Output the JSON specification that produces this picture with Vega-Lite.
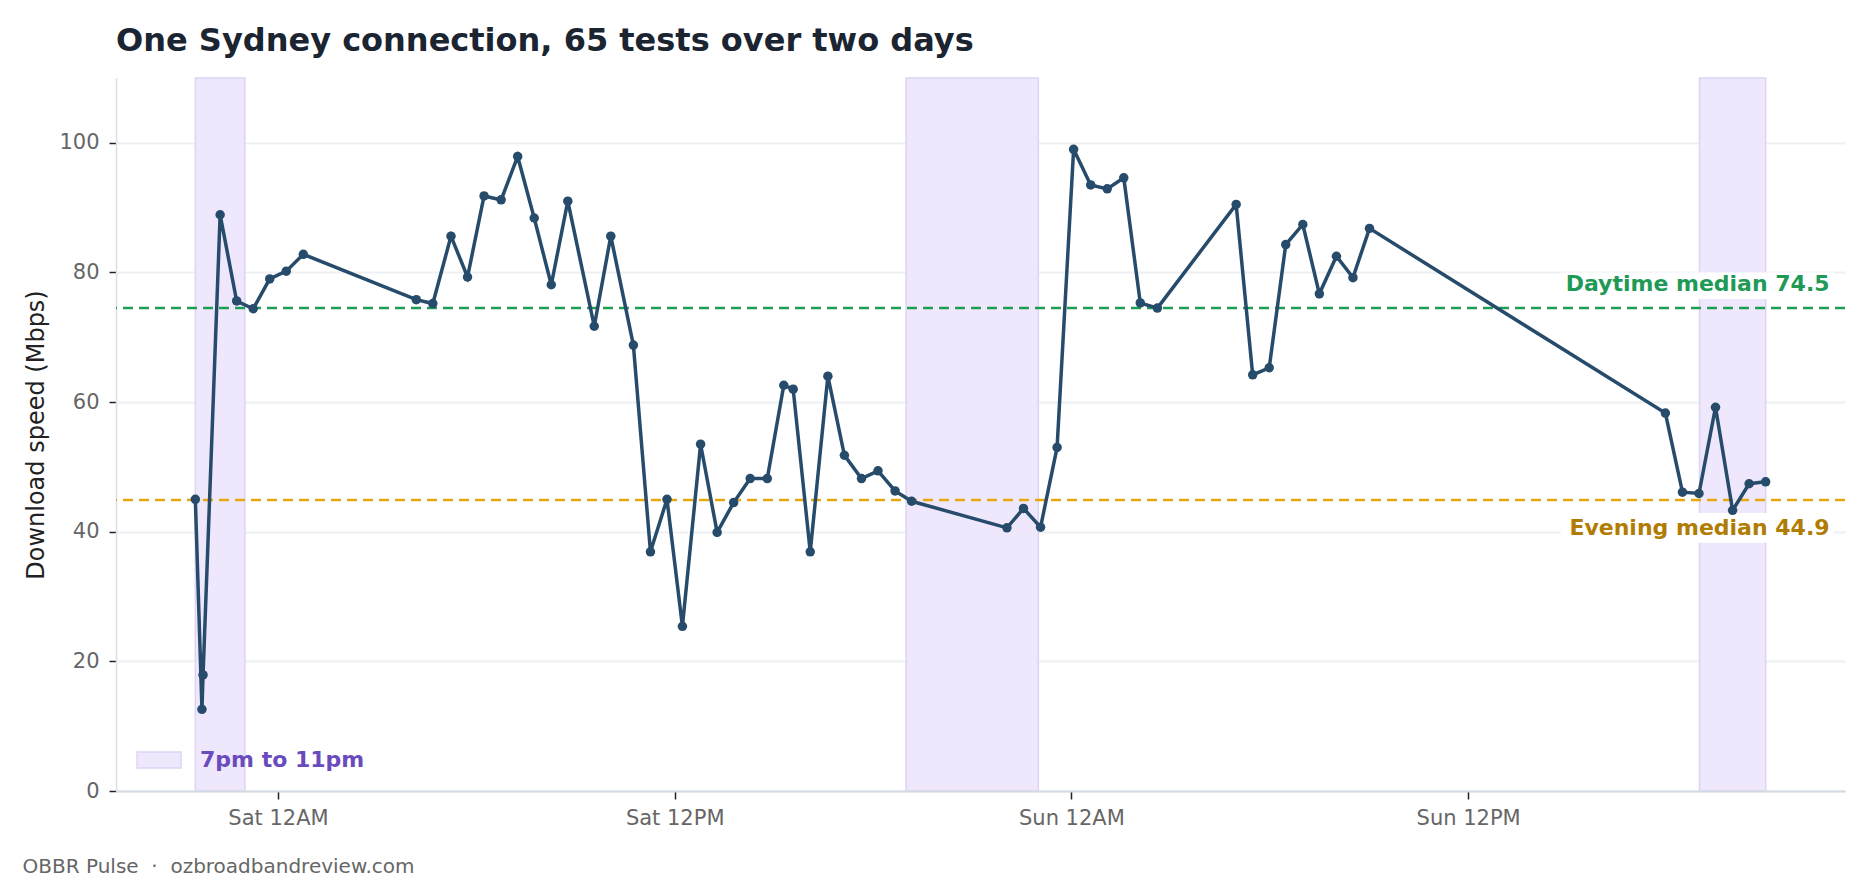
{
  "$schema": "https://vega.github.io/schema/vega-lite/v6.json",
  "autosize": {"type": "none"},
  "padding": {"left": 116, "top": 78, "right": 25, "bottom": 93},
  "width": 1729,
  "height": 713,
  "background": "white",
  "title": {
    "text": "One Sydney connection, 65 tests over two days",
    "anchor": "start",
    "frame": "group",
    "font": "DejaVu Sans",
    "fontSize": 32,
    "fontWeight": "bold",
    "color": "#1b2431",
    "baseline": "alphabetic",
    "offset": -6
  },
  "config": {
    "font": "DejaVu Sans",
    "view": {"stroke": null}
  },
  "datasets": {
    "bands": [
      {"start": "2025-02-28T21:30:00", "end": "2025-02-28T23:00:00", "label": "7pm to 11pm"},
      {"start": "2025-03-01T19:00:00", "end": "2025-03-01T23:00:00", "label": "7pm to 11pm"},
      {"start": "2025-03-02T19:00:00", "end": "2025-03-02T21:00:00", "label": "7pm to 11pm"}
    ],
    "medians": [
      {"kind": "Daytime", "value": 74.5, "label": "Daytime median 74.5"},
      {"kind": "Evening", "value": 44.9, "label": "Evening median 44.9"}
    ],
    "tests": [
      {"t": "2025-02-28T21:30:00", "mbps": 45.0},
      {"t": "2025-02-28T21:42:00", "mbps": 12.6},
      {"t": "2025-02-28T21:44:00", "mbps": 17.9},
      {"t": "2025-02-28T22:15:00", "mbps": 88.9},
      {"t": "2025-02-28T22:45:00", "mbps": 75.6},
      {"t": "2025-02-28T23:15:00", "mbps": 74.4},
      {"t": "2025-02-28T23:45:00", "mbps": 79.0},
      {"t": "2025-03-01T00:15:00", "mbps": 80.2},
      {"t": "2025-03-01T00:46:00", "mbps": 82.8},
      {"t": "2025-03-01T04:11:00", "mbps": 75.8},
      {"t": "2025-03-01T04:41:00", "mbps": 75.2},
      {"t": "2025-03-01T05:14:00", "mbps": 85.6},
      {"t": "2025-03-01T05:44:00", "mbps": 79.3},
      {"t": "2025-03-01T06:14:00", "mbps": 91.8},
      {"t": "2025-03-01T06:45:00", "mbps": 91.2},
      {"t": "2025-03-01T07:15:00", "mbps": 97.9},
      {"t": "2025-03-01T07:45:00", "mbps": 88.4},
      {"t": "2025-03-01T08:16:00", "mbps": 78.1},
      {"t": "2025-03-01T08:46:00", "mbps": 91.0},
      {"t": "2025-03-01T09:34:00", "mbps": 71.7},
      {"t": "2025-03-01T10:04:00", "mbps": 85.6},
      {"t": "2025-03-01T10:45:00", "mbps": 68.8},
      {"t": "2025-03-01T11:16:00", "mbps": 36.9},
      {"t": "2025-03-01T11:46:00", "mbps": 45.0},
      {"t": "2025-03-01T12:14:00", "mbps": 25.4},
      {"t": "2025-03-01T12:47:00", "mbps": 53.5},
      {"t": "2025-03-01T13:17:00", "mbps": 39.9},
      {"t": "2025-03-01T13:47:00", "mbps": 44.5},
      {"t": "2025-03-01T14:17:00", "mbps": 48.2},
      {"t": "2025-03-01T14:48:00", "mbps": 48.2},
      {"t": "2025-03-01T15:18:00", "mbps": 62.6},
      {"t": "2025-03-01T15:35:00", "mbps": 62.0},
      {"t": "2025-03-01T16:06:00", "mbps": 36.9},
      {"t": "2025-03-01T16:38:00", "mbps": 64.0},
      {"t": "2025-03-01T17:08:00", "mbps": 51.8},
      {"t": "2025-03-01T17:39:00", "mbps": 48.2},
      {"t": "2025-03-01T18:09:00", "mbps": 49.4},
      {"t": "2025-03-01T18:40:00", "mbps": 46.3},
      {"t": "2025-03-01T19:10:00", "mbps": 44.7},
      {"t": "2025-03-01T22:03:00", "mbps": 40.6},
      {"t": "2025-03-01T22:33:00", "mbps": 43.6},
      {"t": "2025-03-01T23:04:00", "mbps": 40.7},
      {"t": "2025-03-01T23:34:00", "mbps": 53.0},
      {"t": "2025-03-02T00:04:00", "mbps": 99.0},
      {"t": "2025-03-02T00:35:00", "mbps": 93.5},
      {"t": "2025-03-02T01:05:00", "mbps": 92.9},
      {"t": "2025-03-02T01:35:00", "mbps": 94.6},
      {"t": "2025-03-02T02:05:00", "mbps": 75.3},
      {"t": "2025-03-02T02:36:00", "mbps": 74.5},
      {"t": "2025-03-02T04:59:00", "mbps": 90.5},
      {"t": "2025-03-02T05:29:00", "mbps": 64.2},
      {"t": "2025-03-02T05:59:00", "mbps": 65.3},
      {"t": "2025-03-02T06:29:00", "mbps": 84.3},
      {"t": "2025-03-02T07:00:00", "mbps": 87.4},
      {"t": "2025-03-02T07:30:00", "mbps": 76.7},
      {"t": "2025-03-02T08:01:00", "mbps": 82.5},
      {"t": "2025-03-02T08:31:00", "mbps": 79.2},
      {"t": "2025-03-02T09:01:00", "mbps": 86.8},
      {"t": "2025-03-02T17:58:00", "mbps": 58.3},
      {"t": "2025-03-02T18:29:00", "mbps": 46.1},
      {"t": "2025-03-02T18:59:00", "mbps": 45.9},
      {"t": "2025-03-02T19:29:00", "mbps": 59.2},
      {"t": "2025-03-02T20:00:00", "mbps": 43.3},
      {"t": "2025-03-02T20:30:00", "mbps": 47.4},
      {"t": "2025-03-02T21:00:00", "mbps": 47.7}
    ]
  },
  "layer": [
    {
      "data": {"name": "bands"},
      "mark": {"type": "rect", "stroke": "#ddd3f6", "strokeWidth": 1.5},
      "encoding": {
        "x": {
          "field": "start",
          "type": "temporal",
          "scale": {
            "domain": [
              {"year": 2025, "month": 2, "date": 28, "hours": 19, "minutes": 6},
              {"year": 2025, "month": 3, "date": 2, "hours": 23, "minutes": 24}
            ]
          },
          "axis": {
            "values": [
              {"year": 2025, "month": 3, "date": 1, "hours": 0},
              {"year": 2025, "month": 3, "date": 1, "hours": 12},
              {"year": 2025, "month": 3, "date": 2, "hours": 0},
              {"year": 2025, "month": 3, "date": 2, "hours": 12}
            ],
            "format": "%a %I%p",
            "grid": false,
            "zindex": 1,
            "domainColor": "#d3dae3",
            "domainWidth": 2,
            "tickColor": "#222222",
            "tickSize": 8,
            "tickWidth": 1.5,
            "labelFontSize": 21,
            "labelColor": "#666666",
            "labelPadding": 8,
            "title": "OBBR Pulse\u00a0\u00a0·\u00a0\u00a0ozbroadbandreview.com",
            "titleFontSize": 20,
            "titleFontWeight": "normal",
            "titleColor": "#666666",
            "titleAnchor": "start",
            "titleAlign": "left",
            "titleBaseline": "alphabetic",
            "titleX": -94,
            "titleY": 81
          }
        },
        "x2": {"field": "end"},
        "fill": {
          "field": "label",
          "type": "nominal",
          "scale": {"range": ["#efe8fd"]},
          "legend": {
            "title": null,
            "orient": "none",
            "legendX": 20,
            "legendY": 659,
            "padding": 0,
            "symbolType": "M-1,-0.36H1V0.36H-1Z",
            "symbolSize": 1936,
            "symbolStrokeColor": "#ddd3f6",
            "symbolStrokeWidth": 1.5,
            "symbolOpacity": 1,
            "labelOffset": 18,
            "labelLimit": 400,
            "labelFontSize": 22,
            "labelFontWeight": "bold",
            "labelColor": "#6a4bbd"
          }
        }
      }
    },
    {
      "data": {"name": "medians"},
      "mark": {"type": "rule", "strokeDash": [10, 6], "strokeWidth": 2.5},
      "encoding": {
        "y": {"field": "value", "type": "quantitative"},
        "stroke": {
          "field": "kind",
          "type": "nominal",
          "scale": {"domain": ["Daytime", "Evening"], "range": ["#1f9d55", "#e8a70e"]},
          "legend": null
        }
      }
    },
    {
      "data": {"values": [{}]},
      "mark": {"type": "rect", "fill": "white"},
      "encoding": {
        "x": {"datum": {"year": 2025, "month": 3, "date": 2, "hours": 14, "minutes": 48}, "type": "temporal"},
        "x2": {"datum": {"year": 2025, "month": 3, "date": 2, "hours": 23, "minutes": 4}},
        "y": {"datum": 80.0, "type": "quantitative"},
        "y2": {"datum": 75.9}
      }
    },
    {
      "data": {"values": [{}]},
      "mark": {"type": "rect", "fill": "white"},
      "encoding": {
        "x": {"datum": {"year": 2025, "month": 3, "date": 2, "hours": 14, "minutes": 48}, "type": "temporal"},
        "x2": {"datum": {"year": 2025, "month": 3, "date": 2, "hours": 23, "minutes": 4}},
        "y": {"datum": 42.9, "type": "quantitative"},
        "y2": {"datum": 38.3}
      }
    },
    {
      "data": {"name": "medians"},
      "transform": [{"filter": "datum.kind == 'Daytime'"}],
      "mark": {"type": "text", "align": "right", "baseline": "alphabetic", "dy": -17, "fontSize": 22, "fontWeight": "bold", "color": "#1e9a56"},
      "encoding": {
        "x": {"datum": {"year": 2025, "month": 3, "date": 2, "hours": 22, "minutes": 56}, "type": "temporal"},
        "y": {"field": "value", "type": "quantitative"},
        "text": {"field": "label"}
      }
    },
    {
      "data": {"name": "medians"},
      "transform": [{"filter": "datum.kind == 'Evening'"}],
      "mark": {"type": "text", "align": "right", "baseline": "alphabetic", "dy": 35, "fontSize": 22, "fontWeight": "bold", "color": "#b07c02"},
      "encoding": {
        "x": {"datum": {"year": 2025, "month": 3, "date": 2, "hours": 22, "minutes": 56}, "type": "temporal"},
        "y": {"field": "value", "type": "quantitative"},
        "text": {"field": "label"}
      }
    },
    {
      "data": {"name": "tests"},
      "mark": {
        "type": "line",
        "color": "#264b6b",
        "strokeWidth": 3.5,
        "point": {"filled": true, "size": 90, "color": "#264b6b", "opacity": 1}
      },
      "encoding": {
        "x": {"field": "t", "type": "temporal"},
        "y": {
          "field": "mbps",
          "type": "quantitative",
          "scale": {"domain": [0, 110], "nice": false},
          "axis": {
            "values": [0, 20, 40, 60, 80, 100],
            "grid": true,
            "gridColor": "#eef0f3",
            "gridWidth": 2,
            "domainColor": "#d8dfe7",
            "domainWidth": 1.5,
            "tickColor": "#222222",
            "tickSize": 7,
            "tickWidth": 1.5,
            "labelFontSize": 21,
            "labelColor": "#666666",
            "labelPadding": 10,
            "title": "Download speed (Mbps)",
            "titleFontSize": 24,
            "titleFontWeight": "normal",
            "titleColor": "#222222",
            "titlePadding": 10
          }
        }
      }
    }
  ]
}
